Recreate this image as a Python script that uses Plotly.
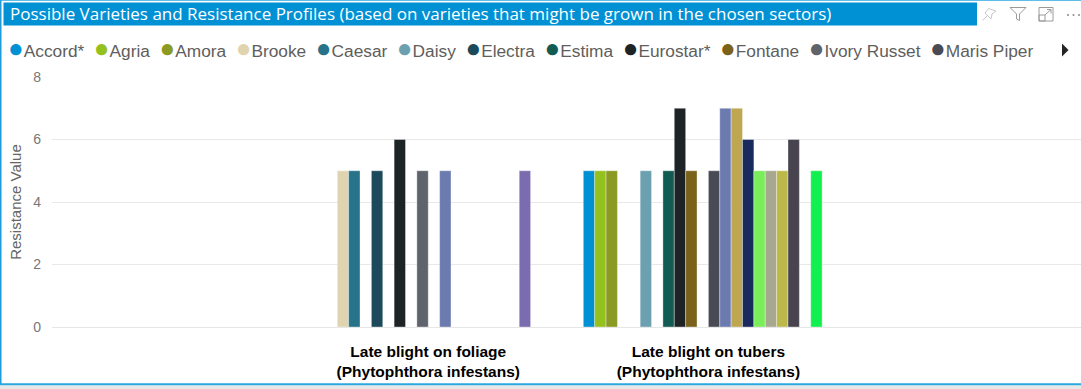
import plotly.graph_objects as go

# ---------------- data ----------------
categories = [
    "Late blight on foliage<br>(Phytophthora infestans)",
    "Late blight on tubers<br>(Phytophthora infestans)",
]
varieties = [
    "Accord*", "Agria", "Amora", "Brooke", "Caesar", "Daisy", "Electra",
    "Estima", "Eurostar*", "Fontane", "Ivory Russet", "Maris Piper",
    "Markies", "Melody", "Nectar", "Orla", "Pentland Dell", "Rooster",
    "Sagitta", "Sarpo Mira", "Valor", "Vivaldi",
]
colors = [
    "#0091D5", "#95C11F", "#8A9A22", "#E0D4B0", "#26738A", "#6BA0B0", "#1C4A5A",
    "#115B52", "#1E2426", "#7A621A", "#5F636B", "#484A54",
    "#6B7BB0", "#BFA650", "#1B2A5C", "#7AEE5A", "#A8A890", "#BDB84A",
    "#47444F", "#7B6BAF", "#12F050", "#D9A0C0",
]
foliage = [None, None, None, 5, 5, None, 5, None, 6, None, 5, None,
           5, None, None, None, None, None, None, 5, None, None]
tubers = [5, 5, 5, None, None, 5, None, 5, 7, 5, None, 5,
          7, 7, 6, 5, 5, 5, 6, None, 5, None]
y_ticks = [0, 2, 4, 6, 8]
legend_visible = 12  # legend entries visible before the scroll arrow

# ---------------- layout geometry ----------------
W, H = 1081, 389
ML, MR, MT, MB = 52, 0, 77, 62
PW, PH = W - ML - MR, H - MT - MB


def px(x):
    return (x - ML) / PW


def py(y):
    return (H - MB - y) / PH


fig = go.Figure()
for name, col, f, t in zip(varieties, colors, foliage, tubers):
    fig.add_trace(go.Bar(
        name=name, x=categories, y=[f, t],
        marker=dict(color=col, line=dict(color="rgba(255,255,255,0.35)", width=1)),
        showlegend=False,
    ))

shapes = [
    # outer visual border
    dict(type="rect", xref="paper", yref="paper", x0=px(-5), x1=px(1.5), y0=py(384.5), y1=py(-5),
         fillcolor="#1E9CDB", line_width=0, layer="below"),
    dict(type="rect", xref="paper", yref="paper", x0=px(-5), x1=px(W + 5), y0=py(-5), y1=py(0.8),
         fillcolor="#29A8E0", line_width=0, layer="below"),
    dict(type="rect", xref="paper", yref="paper", x0=px(-5), x1=px(W + 5), y0=py(385.5), y1=py(383.2),
         fillcolor="#29A8E0", line_width=0, layer="below"),
    dict(type="rect", xref="paper", yref="paper", x0=px(-5), x1=px(W + 5), y0=py(H + 5), y1=py(385.5),
         fillcolor="#E8E8E8", line_width=0, layer="below"),
    # title bar
    dict(type="rect", xref="paper", yref="paper", x0=px(3.5), x1=px(977), y0=py(25.5), y1=py(2.5),
         fillcolor="#0091D5", line_width=0, layer="below"),
    # funnel icon
    dict(type="path", xref="paper", yref="paper",
         path="M{},{} L{},{} L{},{} L{},{} L{},{} L{},{} Z".format(
             px(1010), py(7.5), px(1026), py(7.5), px(1019.5), py(14), px(1019.5), py(20.5),
             px(1016.5), py(19), px(1016.5), py(14)),
         line=dict(color="#9A9A9A", width=1), fillcolor="rgba(0,0,0,0)"),
    # focus-mode icon
    dict(type="rect", xref="paper", yref="paper", x0=px(1039), x1=px(1053), y0=py(21), y1=py(7.5),
         line=dict(color="#9A9A9A", width=1), fillcolor="rgba(0,0,0,0)"),
    dict(type="rect", xref="paper", yref="paper", x0=px(1039), x1=px(1045), y0=py(21), y1=py(15),
         line=dict(color="#9A9A9A", width=1), fillcolor="rgba(0,0,0,0)"),
    dict(type="path", xref="paper", yref="paper",
         path="M{},{} L{},{} M{},{} L{},{} L{},{}".format(
             px(1045), py(15), px(1051), py(9.5), px(1047), py(9.5), px(1051), py(9.5), px(1051), py(13.5)),
         line=dict(color="#9A9A9A", width=1)),
    # pin icon
    dict(type="path", xref="paper", yref="paper",
         path="M{},{} L{},{} M{},{} L{},{} L{},{} L{},{} L{},{} Z".format(
             px(982.5), py(20.5), px(987.5), py(15.5),
             px(985), py(13), px(991), py(19), px(992), py(14), px(996), py(11), px(988.5), py(8.5)),
         line=dict(color="#C8C8C8", width=1), fillcolor="rgba(0,0,0,0)"),
    # legend scroll arrow
    dict(type="path", xref="paper", yref="paper",
         path="M{},{} L{},{} L{},{} Z".format(px(1062), py(43.5), px(1068.5), py(50), px(1062), py(56.5)),
         line_width=0, fillcolor="#252423"),
]
for cx in (1068, 1073.5, 1079):
    shapes.append(dict(type="circle", xref="paper", yref="paper",
                       x0=px(cx - 1), x1=px(cx + 1), y0=py(16), y1=py(14),
                       fillcolor="#8A8A8A", line_width=0))

# legend built as flowing text (marker dot + name)
parts = []
for name, col in zip(varieties[:legend_visible], colors[:legend_visible]):
    parts.append("<span style='color:{};font-size:26px'>●</span>{}".format(col, name))
legend_text = "&nbsp;&nbsp;".join(parts)

annotations = [
    dict(text=legend_text, xref="paper", yref="paper", x=px(6), y=py(48.5),
         xanchor="left", yanchor="middle", showarrow=False,
         font=dict(family="Liberation Sans, Arial", size=17.3, color="#605E5C")),
]

fig.update_layout(
    width=W, height=H,
    margin=dict(l=ML, r=MR, t=MT, b=MB, autoexpand=False),
    paper_bgcolor="white", plot_bgcolor="white",
    barmode="group", bargap=0.107, bargroupgap=0,
    title=dict(
        text="Possible Varieties and Resistance Profiles (based on varieties that might be grown in the chosen sectors)",
        xref="container", yref="container", x=10 / W, xanchor="left",
        y=1 - 14 / H, yanchor="middle",
        font=dict(family="Segoe UI, Open Sans, sans-serif", size=17, color="white"),
    ),
    xaxis=dict(
        type="category", range=[-1.343, 2.330], showgrid=False, zeroline=False,
        showline=False, ticks="", ticklabelstandoff=13,
        tickfont=dict(family="Liberation Sans, Arial", size=15.5, color="#000000", weight="bold"),
    ),
    yaxis=dict(
        range=[0, 8], tickvals=y_ticks, showgrid=True, gridcolor="#E8E8E8", gridwidth=1.3,
        zeroline=True, zerolinecolor="#E6E6E6", zerolinewidth=1.3, showline=False,
        ticks="", ticklabelstandoff=10,
        tickfont=dict(family="Liberation Sans, Arial", size=14, color="#777777"),
        title=dict(text="Resistance Value", standoff=7,
                   font=dict(family="Liberation Sans, Arial", size=15, color="#666666")),
    ),
    shapes=shapes, annotations=annotations,
)

fig.write_html(
    "out.html",
    config={"displayModeBar": False},
    post_script="document.body.style.margin='0';document.body.style.padding='0';document.body.style.overflow='hidden';",
)
